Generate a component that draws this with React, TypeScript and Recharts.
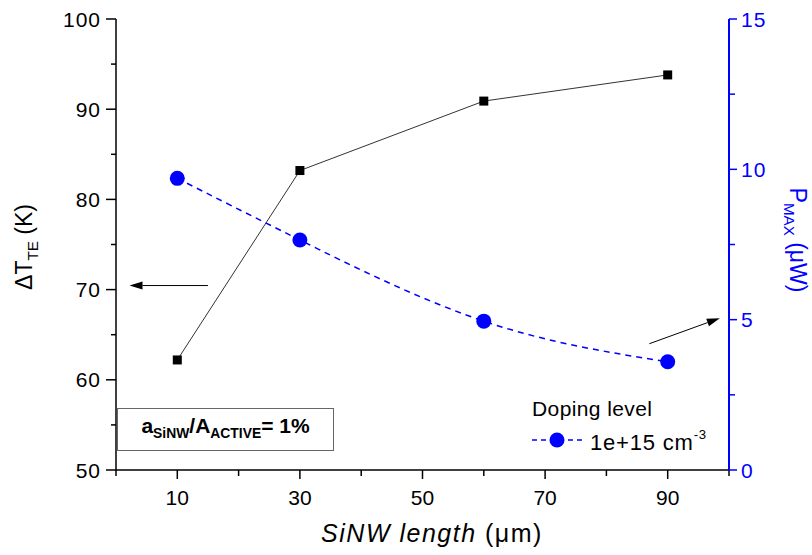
import { LineChart, Line, XAxis, YAxis, ReferenceLine } from 'recharts'

const LENGTHS = [10, 30, 60, 90]
const DELTA_T = [62.2, 83.2, 90.9, 93.8]
const P_MAX = [9.7, 7.65, 4.95, 3.6]

const X_TICKS = [0, 10, 20, 30, 40, 50, 60, 70, 80, 90, 100]
const X_LABELS = [10, 30, 50, 70, 90]
const LEFT_TICKS = [50, 55, 60, 65, 70, 75, 80, 85, 90, 95, 100]
const LEFT_LABELS = [50, 60, 70, 80, 90, 100]
const RIGHT_TICKS = [0, 2.5, 5, 7.5, 10, 12.5, 15]
const RIGHT_LABELS = [0, 5, 10, 15]

const BLUE = '#0000ff'
const FONT = '"Liberation Sans", Arial, sans-serif'

const data = LENGTHS.map((x, i) => ({ x, dT: DELTA_T[i], p: P_MAX[i] }))

const BottomTick = ({ x, y, payload }: any) => {
  const major = X_LABELS.includes(payload.value)
  return (
    <g>
      <line x1={x} x2={x} y1={y} y2={y + (major ? 9 : 6)} stroke="#000" strokeWidth={1.5} />
      {major && (
        <text x={x} y={y + 35} textAnchor="middle" fontSize={21} fontFamily={FONT} fill="#000">
          {payload.value}
        </text>
      )}
    </g>
  )
}

const TopTick = ({ x, y, payload }: any) => {
  const major = X_LABELS.includes(payload.value)
  return <line x1={x} x2={x} y1={y} y2={y + (major ? 9 : 5)} stroke="#000" strokeWidth={1.5} />
}

const LeftTick = ({ x, y, payload }: any) => {
  const major = LEFT_LABELS.includes(payload.value)
  return (
    <g>
      <line x1={x} x2={x - (major ? 10 : 5)} y1={y} y2={y} stroke="#000" strokeWidth={1.5} />
      {major && (
        <text x={x - 15} y={y + 7.5} textAnchor="end" fontSize={21} fontFamily={FONT} fill="#000" letterSpacing={1}>
          {payload.value}
        </text>
      )}
    </g>
  )
}

const RightTick = ({ x, y, payload }: any) => {
  const major = RIGHT_LABELS.includes(payload.value)
  return (
    <g>
      <line x1={x} x2={x + (major ? 8 : 6)} y1={y} y2={y} stroke={BLUE} strokeWidth={1.5} />
      {major && (
        <text x={x + 12} y={y + 7.5} textAnchor="start" fontSize={21} fontFamily={FONT} fill={BLUE} letterSpacing={1}>
          {payload.value}
        </text>
      )}
    </g>
  )
}

const Square = ({ cx, cy }: any) => <rect x={cx - 4.5} y={cy - 4.5} width={9} height={9} fill="#000" />

const Dot = ({ cx, cy }: any) => <circle cx={cx} cy={cy} r={7.5} fill={BLUE} />

const Arrow = ({ x1, y1, x2, y2 }: any) => {
  const a = Math.atan2(y2 - y1, x2 - x1)
  const L = 13
  const W = 4
  const bx = x2 - L * Math.cos(a)
  const by = y2 - L * Math.sin(a)
  const px = -Math.sin(a) * W
  const py = Math.cos(a) * W
  return (
    <g>
      <line x1={x1} y1={y1} x2={bx} y2={by} stroke="#000" strokeWidth={1} />
      <polygon points={`${x2},${y2} ${bx + px},${by + py} ${bx - px},${by - py}`} fill="#000" />
    </g>
  )
}

const sub = { fontSize: '0.66em', verticalAlign: '-0.35em' }

export default function App() {
  return (
    <div style={{ position: 'relative', width: 812, height: 555, fontFamily: FONT, background: '#fff' }}>
      <style>{`body{margin:0}`}</style>
      <LineChart width={812} height={555} data={data} margin={{ top: 19, right: 0, bottom: 0, left: 0 }}>
        <XAxis
          xAxisId="bottom"
          dataKey="x"
          type="number"
          domain={[0, 100]}
          ticks={X_TICKS}
          interval={0}
          height={85}
          tickSize={0}
          tickMargin={0}
          tickLine={false}
          tick={<BottomTick />}
          axisLine={{ stroke: '#000', strokeWidth: 1.5 }}
        />
        <XAxis
          xAxisId="top"
          orientation="top"
          dataKey="x"
          type="number"
          domain={[0, 100]}
          ticks={X_TICKS}
          interval={0}
          height={0}
          tickSize={0}
          tickMargin={0}
          tickLine={false}
          tick={<TopTick />}
          axisLine={{ stroke: '#000', strokeWidth: 1.5 }}
        />
        <YAxis
          yAxisId="left"
          type="number"
          domain={[50, 100]}
          ticks={LEFT_TICKS}
          interval={0}
          width={116}
          tickSize={0}
          tickMargin={0}
          tickLine={false}
          tick={<LeftTick />}
          axisLine={{ stroke: '#000', strokeWidth: 1.5 }}
        />
        <YAxis
          yAxisId="right"
          orientation="right"
          type="number"
          domain={[0, 15]}
          ticks={RIGHT_TICKS}
          interval={0}
          width={83}
          tickSize={0}
          tickMargin={0}
          tickLine={false}
          tick={<RightTick />}
          axisLine={{ stroke: BLUE, strokeWidth: 2 }}
        />
        <Line
          xAxisId="bottom"
          yAxisId="left"
          dataKey="dT"
          type="linear"
          stroke="#333"
          strokeWidth={1}
          dot={<Square />}
          activeDot={false}
          isAnimationActive={false}
        />
        <Line
          xAxisId="bottom"
          yAxisId="right"
          dataKey="p"
          type="natural"
          stroke={BLUE}
          strokeWidth={1.5}
          strokeDasharray="6 5"
          dot={<Dot />}
          activeDot={false}
          isAnimationActive={false}
        />
        <ReferenceLine
          xAxisId="bottom"
          yAxisId="left"
          segment={[{ x: 15, y: 70.45 }, { x: 2.2, y: 70.45 }]}
          shape={<Arrow />}
        />
        <ReferenceLine
          xAxisId="bottom"
          yAxisId="right"
          segment={[{ x: 87, y: 4.2 }, { x: 98.5, y: 5.05 }]}
          shape={<Arrow />}
        />
      </LineChart>

      <div
        style={{
          position: 'absolute',
          left: 26,
          top: 247,
          transform: 'translate(-50%, -50%) rotate(-90deg)',
          whiteSpace: 'nowrap',
          fontSize: 23,
        }}
      >
        ΔT<span style={sub}>TE</span> (K)
      </div>
      <div
        style={{
          position: 'absolute',
          left: 796,
          top: 240,
          transform: 'translate(-50%, -50%) rotate(90deg)',
          whiteSpace: 'nowrap',
          fontSize: 23,
          color: BLUE,
        }}
      >
        P<span style={sub}>MAX</span> (μW)
      </div>
      <div
        style={{
          position: 'absolute',
          left: 432,
          top: 533,
          transform: 'translate(-50%, -50%)',
          whiteSpace: 'nowrap',
          fontSize: 25,
          letterSpacing: 1.5,
        }}
      >
        <i>SiNW length</i> (μm)
      </div>

      <div
        style={{
          position: 'absolute',
          left: 117,
          top: 408,
          width: 217,
          height: 43,
          border: '1px solid #666',
          boxSizing: 'border-box',
          display: 'flex',
          alignItems: 'center',
          justifyContent: 'center',
          fontWeight: 'bold',
          fontSize: 21,
          whiteSpace: 'nowrap',
        }}
      >
        <span style={{ marginTop: -4 }}>
          a<span style={sub}>SiNW</span>/A<span style={sub}>ACTIVE</span>= 1%
        </span>
      </div>

      <div style={{ position: 'absolute', left: 532, top: 397, fontSize: 21, whiteSpace: 'nowrap', letterSpacing: 0.4 }}>
        Doping level
      </div>
      <svg style={{ position: 'absolute', left: 528, top: 430 }} width={60} height={20}>
        <line x1={4} x2={54} y1={10} y2={10} stroke={BLUE} strokeWidth={1.5} strokeDasharray="5 4" />
        <circle cx={29} cy={10} r={7.5} fill={BLUE} />
      </svg>
      <div style={{ position: 'absolute', left: 590, top: 427, fontSize: 22, whiteSpace: 'nowrap', letterSpacing: 0.8 }}>
        1e+15 cm<sup style={{ fontSize: '0.6em', verticalAlign: '0.8em' }}>-3</sup>
      </div>
    </div>
  )
}
